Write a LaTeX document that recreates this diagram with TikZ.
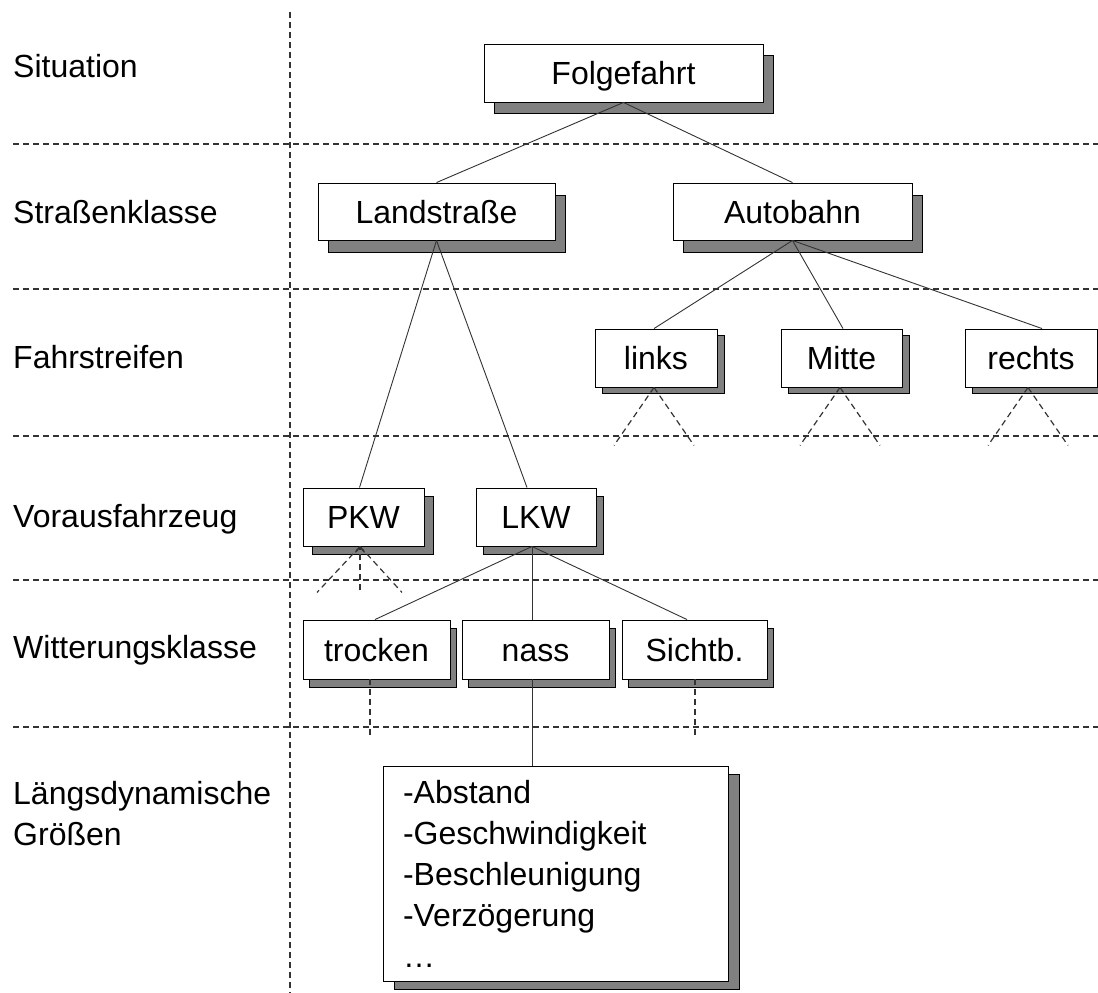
\documentclass[tikz,border=0pt]{standalone}
\usepackage{fontspec}
\setmainfont{Liberation Sans}
\usetikzlibrary{shadows,arrows.meta,calc}
\definecolor{shd}{HTML}{808080}
\definecolor{ln}{HTML}{333333}
\tikzset{
  txt/.style={font=\fontsize{32}{41}\selectfont},
  box/.style={txt, draw=black, line width=0.9pt, fill=white, inner sep=0pt,
    text height=23pt, text depth=0pt},
  sh/.style 2 args={copy shadow={shadow xshift=#1, shadow yshift=#2, fill=shd, draw=black, line width=0.9pt}},
  sep/.style={draw=ln, line width=1.5pt, dash pattern=on 6pt off 4pt},
  con/.style={draw=ln, line width=0.9pt},
  dcon/.style={draw=ln, line width=1.2pt, dash pattern=on 6pt off 4pt},
  lab/.style={txt, anchor=base west, inner sep=0pt}
}
\begin{document}
\begin{tikzpicture}[x=1pt,y=-1pt]
\useasboundingbox (0,0) rectangle (1098,993);
% separators
\draw[sep] (290,12) -- (290,993);
\foreach \yy in {144,289,436,580,727} \draw[sep] (13,\yy) -- (1098,\yy);
% row labels
\node[lab] (l1) at (13,77) {Situation};
\node[lab] (l2) at (13,223) {Straßenklasse};
\node[lab] (l3) at (13,368) {Fahrstreifen};
\node[lab] (l4) at (13,527) {Vorausfahrzeug};
\node[lab] (l5) at (13,658) {Witterungsklasse};
\node[txt, anchor=north west, inner sep=0pt, align=left] (l6) at (13,781) {Längsdynamische\\Größen};
% nodes
\node[box, sh={10pt}{-11pt}, minimum width=279pt, minimum height=58pt] (folge) at (623.5,73) {Folgefahrt};
\node[box, sh={10pt}{-12pt}, minimum width=237pt, minimum height=57pt] (land) at (436.5,211.5) {Landstraße};
\node[box, sh={10pt}{-12pt}, minimum width=239pt, minimum height=57pt] (auto) at (792.5,211.5) {Autobahn};
\node[box, sh={7pt}{-6pt}, minimum width=122pt, minimum height=58pt] (links) at (656,358) {links};
\node[box, sh={7pt}{-6pt}, minimum width=121pt, minimum height=58pt] (mitte) at (841.5,358) {Mitte};
\node[box, sh={7pt}{-6pt}, minimum width=132pt, minimum height=58pt] (rechts) at (1031,358) {rechts};
\node[box, sh={9pt}{-8pt}, minimum width=121pt, minimum height=58pt] (pkw) at (363.5,517) {PKW};
\node[box, sh={7pt}{-8pt}, minimum width=120pt, minimum height=58pt] (lkw) at (536,517) {LKW};
\node[box, sh={6pt}{-8pt}, minimum width=147pt, minimum height=59pt] (trocken) at (376.5,649.5) {trocken};
\node[box, sh={6pt}{-8pt}, minimum width=147pt, minimum height=59pt] (nass) at (535.5,649.5) {nass};
\node[box, sh={6pt}{-8pt}, minimum width=145pt, minimum height=59pt] (sicht) at (694.5,649.5) {Sichtb.};
\node[txt, draw=black, line width=0.9pt, fill=white, sh={11pt}{-8pt}, minimum width=345pt, minimum height=215pt,
  text width=305pt, align=left, inner sep=0pt] (groessen) at (555.5,873.5)
  {-Abstand\\-Geschwindigkeit\\-Beschleunigung\\-Verzögerung\\…};
% solid connectors
\draw[con] (folge.south) -- (land.north);
\draw[con] (folge.south) -- (auto.north);
\draw[con] (land.south) -- ($(pkw.north)+(-4,0)$);
\draw[con] (land.south) -- ($(lkw.north)+(-9,0)$);
\draw[con] (auto.south) -- ($(links.north)+(-2,0)$);
\draw[con] (auto.south) -- ($(mitte.north)+(1.5,0)$);
\draw[con] (auto.south) -- ($(rechts.north)+(11,0)$);
\coordinate (lk) at ($(lkw.south)+(-4,0)$);
\draw[con] (lk) -- ($(trocken.north)+(-1.5,0)$);
\draw[con] (lk) -- (lk |- nass.north);
\draw[con] (lk) -- ($(sicht.north)+(-7.5,0)$);
\draw[con] (lk |- nass.south) -- (lk |- groessen.north);
% dashed open branches
\foreach \n/\dx in {links/-2, mitte/-1.5, rechts/-3} {
  \coordinate (a\n) at ($(\n.south)+(\dx,0)$);
  \draw[dcon] (a\n) -- ++(-40,58);
  \draw[dcon] (a\n) -- ++(40,58);
}
\coordinate (apkw) at ($(pkw.south)+(-3.5,0)$);
\draw[dcon] (apkw) -- ++(-43,46);
\draw[dcon] (apkw) -- ++(42,46);
\draw[dcon, -{Straight Barb[length=5pt,width=9pt]}] ($(apkw)+(0,44)$) -- (apkw);
\draw[dcon] ($(trocken.south)+(-6.5,0)$) -- ++(0,56);
\draw[dcon] ($(sicht.south)+(0.5,0)$) -- ++(0,56);
\end{tikzpicture}
\end{document}
